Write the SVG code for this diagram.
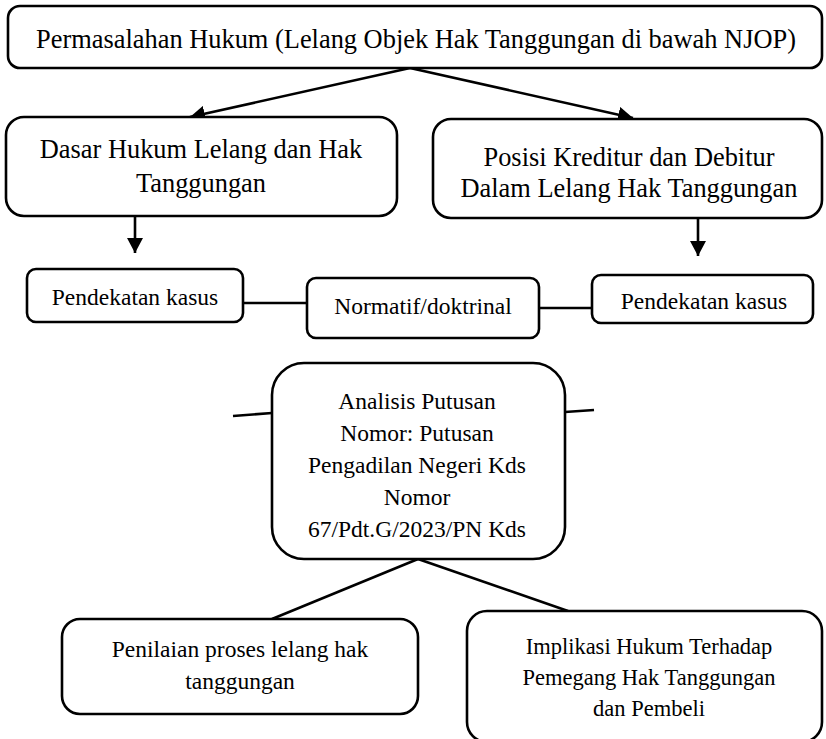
<svg xmlns="http://www.w3.org/2000/svg" width="826" height="739" viewBox="0 0 826 739">
<style>
.box{fill:#fff;stroke:#000;stroke-width:2.6}
.t{font-family:"Liberation Serif","Times New Roman",serif;fill:#000;text-anchor:middle}
.big{font-size:26.4px}
.mid{font-size:23.5px}
.sm{font-size:22.5px}
.con{stroke:#000;stroke-width:2.6;fill:none}
</style>
<defs>
<marker id="arr" markerUnits="userSpaceOnUse" markerWidth="16" markerHeight="16" refX="15" refY="8" orient="auto" viewBox="0 0 16 16">
<path d="M0,0 L15,8 L0,16 z" fill="#000"/>
</marker>
</defs>
<g id="connectors">
<line class="con" x1="410" y1="68" x2="190" y2="117" marker-end="url(#arr)"/>
<line class="con" x1="410" y1="68" x2="633" y2="118" marker-end="url(#arr)"/>
<line class="con" x1="135" y1="216" x2="135" y2="253" marker-end="url(#arr)"/>
<line class="con" x1="698" y1="218" x2="698" y2="256" marker-end="url(#arr)"/>
<line class="con" x1="243" y1="303" x2="307" y2="303"/>
<line class="con" x1="539" y1="308" x2="592" y2="308"/>
<line class="con" x1="233" y1="416" x2="272" y2="413"/>
<line class="con" x1="565" y1="412" x2="594" y2="410"/>
<line class="con" x1="418" y1="559" x2="272" y2="619"/>
<line class="con" x1="418" y1="559" x2="568" y2="611"/>
</g>
<g id="n-top">
<rect class="box" x="8" y="6" width="814" height="62" rx="12"/>
<text class="t big" x="416" y="48">Permasalahan Hukum (Lelang Objek Hak Tanggungan di bawah NJOP)</text>
</g>
<g id="n-dasar">
<rect class="box" x="6" y="117" width="391" height="99" rx="18"/>
<text class="t big" x="201" y="158">Dasar Hukum Lelang dan Hak</text>
<text class="t big" x="201" y="192">Tanggungan</text>
</g>
<g id="n-posisi">
<rect class="box" x="433" y="119" width="389" height="99" rx="18"/>
<text class="t big" x="629" y="166">Posisi Kreditur dan Debitur</text>
<text class="t big" x="629" y="197">Dalam Lelang Hak Tanggungan</text>
</g>
<g id="n-kasus-left">
<rect class="box" x="27" y="269" width="216" height="53" rx="9"/>
<text class="t mid" x="135" y="305">Pendekatan kasus</text>
</g>
<g id="n-normatif">
<rect class="box" x="307" y="278" width="232" height="60" rx="9"/>
<text class="t mid" x="423" y="314">Normatif/doktrinal</text>
</g>
<g id="n-kasus-right">
<rect class="box" x="592" y="275" width="221" height="48" rx="9"/>
<text class="t mid" x="704" y="309">Pendekatan kasus</text>
</g>
<g id="n-analisis">
<rect class="box" x="272" y="363" width="293" height="196" rx="32"/>
<text class="t mid" x="417" y="409">Analisis Putusan</text>
<text class="t mid" x="417" y="441">Nomor: Putusan</text>
<text class="t mid" x="417" y="473">Pengadilan Negeri Kds</text>
<text class="t mid" x="417" y="505">Nomor</text>
<text class="t mid" x="417" y="537">67/Pdt.G/2023/PN Kds</text>
</g>
<g id="n-penilaian">
<rect class="box" x="62" y="619" width="356" height="95" rx="18"/>
<text class="t mid" x="240" y="657">Penilaian proses lelang hak</text>
<text class="t mid" x="240" y="689">tanggungan</text>
</g>
<g id="n-implikasi">
<rect class="box" x="467" y="611" width="355" height="131" rx="20"/>
<text class="t sm" x="649" y="654">Implikasi Hukum Terhadap</text>
<text class="t sm" x="649" y="685">Pemegang Hak Tanggungan</text>
<text class="t sm" x="649" y="716">dan Pembeli</text>
</g>
</svg>
